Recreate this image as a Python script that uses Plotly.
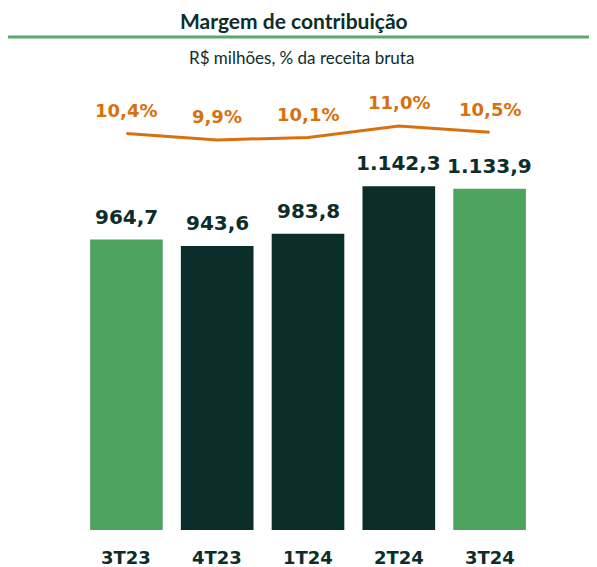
import plotly.graph_objects as go

quarters = ["3T23", "4T23", "1T24", "2T24", "3T24"]
margem = [964.7, 943.6, 983.8, 1142.3, 1133.9]
pct_receita = [10.4, 9.9, 10.1, 11.0, 10.5]
bar_colors = ["#4ea35f", "#0c2e2b", "#0c2e2b", "#0c2e2b", "#4ea35f"]

DARK = "#0c2e2b"
ORANGE = "#d9700f"
TXT = "Lato"
NUM = "DejaVu Sans"

# page has an 8px body margin, so the figure is drawn 8px in from the top-left
W, H = 589, 559
ML, MR, MT, MB = 73, 62, 72, 37
plot_w = W - ML - MR
plot_h = H - MT - MB


def px(pix):
    return (pix - 8 - ML) / plot_w


def py(pix):
    return (H - MB - (pix - 8)) / plot_h


def br(v):
    return f"{v:,.1f}".replace(",", "X").replace(".", ",").replace("X", ".")


fig = go.Figure()
fig.add_trace(go.Bar(
    x=quarters, y=margem, marker_color=bar_colors, marker_line_width=0,
    hoverinfo="skip", showlegend=False,
))
fig.add_trace(go.Scatter(
    x=quarters, y=pct_receita, mode="lines", yaxis="y2",
    line=dict(color=ORANGE, width=3), hoverinfo="skip", showlegend=False,
))

annotations = []
for q, v in zip(quarters, margem):
    annotations.append(dict(
        x=q, y=v, xref="x", yref="y", text=f"<b>{br(v)}</b>", showarrow=False,
        yanchor="bottom", yshift=9, font=dict(family=NUM, size=20, color=DARK),
    ))
for q, p in zip(quarters, pct_receita):
    annotations.append(dict(
        x=q, y=p, xref="x", yref="y2", text=f"<b>{br(p)}%</b>",
        showarrow=False, yanchor="middle", yshift=23,
        font=dict(family=NUM, size=18, color=ORANGE),
    ))
for q in quarters:
    annotations.append(dict(
        x=q, y=0, xref="x", yref="paper", text=f"<b>{q}</b>", showarrow=False,
        yanchor="middle", yshift=-27, font=dict(family=NUM, size=18, color=DARK),
    ))
annotations.append(dict(
    x=px(294), y=py(20), xref="paper", yref="paper", text="<b>Margem de contribuição</b>",
    showarrow=False, yanchor="middle", font=dict(family=TXT, size=21, color=DARK),
))
annotations.append(dict(
    x=px(301), y=py(57), xref="paper", yref="paper", text="R$ milhões, % da receita bruta",
    showarrow=False, yanchor="middle", font=dict(family=TXT, size=17, color=DARK),
))

fig.update_layout(
    width=W, height=H,
    margin=dict(l=ML, r=MR, t=MT, b=MB),
    paper_bgcolor="white", plot_bgcolor="white",
    bargap=0.2,
    xaxis=dict(showticklabels=False, showgrid=False, zeroline=False, showline=False),
    yaxis=dict(range=[0, 1495], visible=False),
    yaxis2=dict(range=[-20.81, 14.62], overlaying="y", visible=False),
    annotations=annotations,
)
fig.add_shape(
    type="line", xref="paper", yref="paper",
    x0=px(7), x1=px(597), y0=py(37), y1=py(37),
    line=dict(color="#5aa86a", width=3),
)

fig.write_html("out.html")
